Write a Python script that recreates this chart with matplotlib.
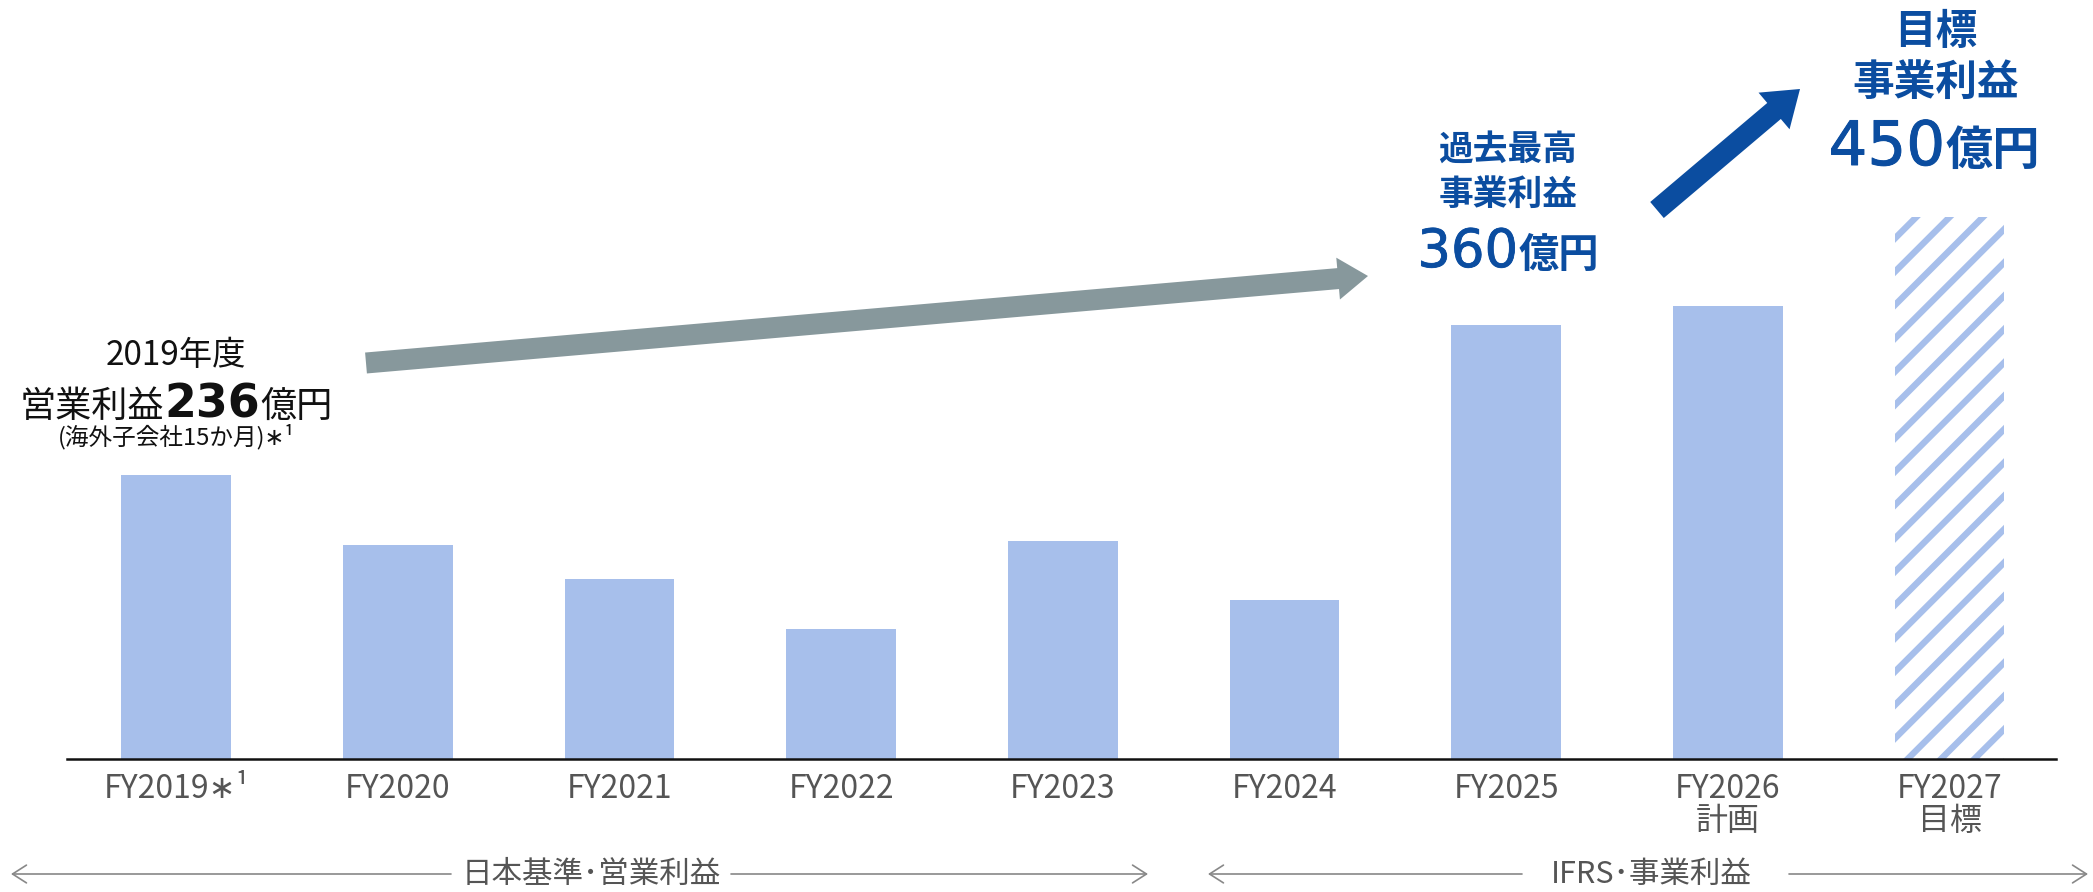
import matplotlib
matplotlib.use("Agg")
import matplotlib.pyplot as plt
import matplotlib.patheffects as pe
from matplotlib.patches import FancyArrow
from matplotlib.transforms import IdentityTransform

plt.rcParams['font.family'] = ['Noto Sans CJK JP', 'DejaVu Sans']
plt.rcParams['hatch.linewidth'] = 4.6

# ---- data ----
categories = ['FY2019∗¹', 'FY2020', 'FY2021', 'FY2022', 'FY2023',
              'FY2024', 'FY2025', 'FY2026\n計画', 'FY2027\n目標']
profits = [236, 178, 149, 108, 181, 132, 360, 376, 450]
hatched = [False, False, False, False, False, False, False, False, True]
basis_labels = ['日本基準･営業利益', 'IFRS･事業利益']

W, H = 2093, 892
BAR = '#A7BFEB'
BLUE = '#0B4DA0'
GRAY_ARROW = '#87989C'
LABEL = '#555555'
NUMFONT = ['DejaVu Sans', 'Noto Sans CJK JP']
CJK = ['Noto Sans CJK JP', 'DejaVu Sans']

fig = plt.figure(figsize=(W / 100, H / 100), dpi=100)
ax = fig.add_axes([67 / W, 1 - 759 / H, (2056 - 67) / W, 759 / H])
ax.set_xlim(-0.492, 8.48)
ax.set_ylim(0, 630)

x = list(range(len(categories)))
for xi, v, h in zip(x, profits, hatched):
    if h:
        ax.bar(xi, v, width=0.494, facecolor='white', edgecolor=BAR,
               linewidth=0, hatch='/')
    else:
        ax.bar(xi, v, width=0.494, color=BAR, linewidth=0)

for s in ['top', 'right', 'left']:
    ax.spines[s].set_visible(False)
ax.spines['bottom'].set_linewidth(1.8)
ax.spines['bottom'].set_color('#111111')
ax.set_yticks([])
ax.set_xticks(x)
ax.set_xticklabels(categories, fontsize=23, color=LABEL, linespacing=1.0)
ax.tick_params(axis='x', length=0, pad=10)

ID = IdentityTransform()


def ptext(xp, yp, s, **kw):
    return fig.text(xp, H - yp, s, transform=ID, **kw)


def rich(xc, yb, parts, color):
    texts = []
    for s, size, weight, fam, stroke in parts:
        t = fig.text(0, 0, s, fontsize=size, fontweight=weight,
                     color=color, ha='left', va='baseline',
                     family=fam, transform=ID)
        if stroke:
            t.set_path_effects([pe.withStroke(linewidth=stroke, foreground=color)])
        texts.append(t)
    fig.canvas.draw()
    r = fig.canvas.get_renderer()
    widths = [t.get_window_extent(r).width for t in texts]
    xs = xc - sum(widths) / 2
    for t, w in zip(texts, widths):
        t.set_position((xs, H - yb))
        xs += w


# left annotation
ptext(176, 355, '2019年度', fontsize=24, color='#111111', ha='center', va='center')
rich(176, 417, [('営業利益', 26, 'normal', CJK, 0), ('236', 33, 'bold', NUMFONT, 0),
                ('億円', 26, 'normal', CJK, 0)], '#111111')
ptext(176, 437, '(海外子会社15か月)∗¹', fontsize=17, color='#111111', ha='center', va='center')

# FY2025 annotation
ptext(1508, 149, '過去最高', fontsize=25, color=BLUE, ha='center', va='center', fontweight='bold')
ptext(1508, 194, '事業利益', fontsize=25, color=BLUE, ha='center', va='center', fontweight='bold')
rich(1508, 267, [('360', 38, 'normal', NUMFONT, 0.6), ('億円', 29, 'bold', CJK, 0)], BLUE)

# FY2027 annotation
ptext(1936, 32, '目標', fontsize=30, color=BLUE, ha='center', va='center', fontweight='bold')
ptext(1936, 83, '事業利益', fontsize=30, color=BLUE, ha='center', va='center', fontweight='bold')
rich(1934, 165, [('450', 44, 'normal', NUMFONT, 0.7), ('億円', 34, 'bold', CJK, 0)], BLUE)

# big arrows (figure pixels)
fig.add_artist(FancyArrow(366, H - 363, 1368 - 366, (H - 276) - (H - 363),
                          width=21, head_width=42, head_length=30,
                          length_includes_head=True, color=GRAY_ARROW,
                          linewidth=0, transform=ID))
fig.add_artist(FancyArrow(1657, H - 210, 1800 - 1657, (H - 89) - (H - 210),
                          width=21, head_width=48, head_length=34,
                          length_includes_head=True, color=BLUE,
                          linewidth=0, transform=ID))

# bottom basis brackets
yb = H - 874
ap = dict(arrowstyle='->,head_length=0.5,head_width=0.32', color='#888888',
          lw=1.2, shrinkA=0, shrinkB=0, mutation_scale=20)
for (l0, l1, tx, r0, r1), lab in zip([(11, 451, 591, 731, 1148),
                                      (1208, 1522, 1651, 1789, 2088)], basis_labels):
    ax.annotate('', xy=(l0, yb), xytext=(l1, yb), xycoords='figure pixels',
                textcoords='figure pixels', arrowprops=ap, annotation_clip=False)
    ax.annotate('', xy=(r1, yb), xytext=(r0, yb), xycoords='figure pixels',
                textcoords='figure pixels', arrowprops=ap, annotation_clip=False)
    ptext(tx, 874, lab, fontsize=22, color=LABEL, ha='center', va='center')

fig.savefig('out.png', dpi=100)
